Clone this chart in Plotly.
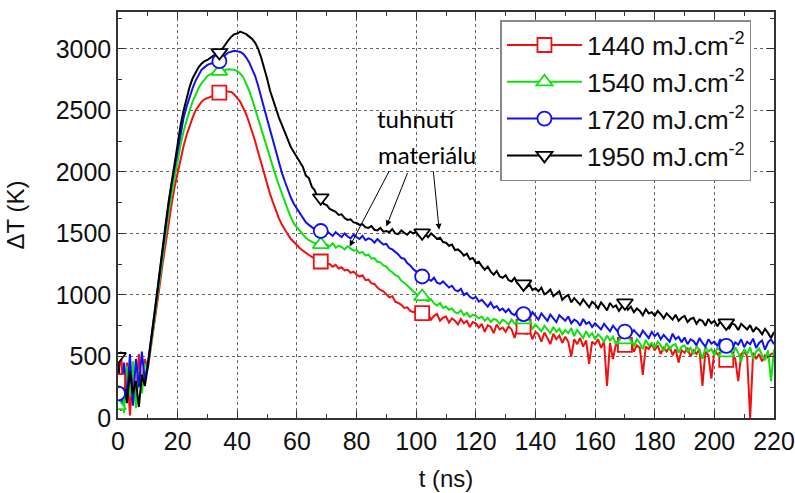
import plotly.graph_objects as go

# time axis (ns), 1 ns sampling
t_ns = list(range(0, 221))

dT_1950 = [
    500, 180, 320, 120, 380, 200, 300, 90, 350, 260,
    420, 620, 800, 1000, 1200, 1400, 1580, 1760, 1920, 2060,
    2220, 2380, 2500, 2600, 2690, 2760, 2810, 2850, 2880, 2900,
    2910, 2930, 2945, 2955, 2970, 3000, 3040, 3070, 3100, 3120,
    3125, 3140, 3130, 3120, 3100, 3080, 3050, 3000, 2930, 2850,
    2760, 2660, 2580, 2500, 2440, 2380, 2320, 2260, 2200, 2160,
    2120, 2070, 2040, 1970, 1950, 1880, 1850, 1790, 1790, 1740,
    1730, 1700, 1690, 1675, 1650, 1655, 1625, 1610, 1615, 1590,
    1585, 1570, 1575, 1550, 1545, 1560, 1530, 1525, 1545, 1515,
    1520, 1510, 1535, 1500, 1495, 1525, 1505, 1490, 1515, 1500,
    1510, 1480, 1505, 1495, 1470, 1500, 1480, 1455, 1465, 1430,
    1425, 1400, 1410, 1365, 1370, 1350, 1320, 1335, 1290, 1300,
    1260, 1270, 1235, 1205, 1230, 1190, 1165, 1195, 1150, 1140,
    1160, 1120, 1110, 1140, 1095, 1110, 1090, 1060, 1085, 1040,
    1055, 1030, 1060, 1005, 1020, 1045, 990, 1010, 1030, 960,
    985, 1000, 940, 975, 950, 920, 965, 930, 900, 945,
    925, 890, 940, 910, 875, 935, 900, 915, 870, 905,
    936, 880, 905, 860, 890, 870, 835, 885, 850, 860,
    830, 870, 845, 810, 850, 825, 800, 840, 790, 815,
    830, 780, 805, 815, 765, 800, 790, 750, 805, 770,
    790, 745, 785, 760, 773, 730, 770, 755, 715, 765,
    740, 720, 755, 700, 735, 715, 680, 725, 690, 650,
    700,
]

dT_1720 = [
    200, 60, 450, 150, 520, 100, 480, 250, 540, 300,
    450, 620, 790, 980, 1180, 1380, 1560, 1740, 1900, 2040,
    2180, 2320, 2440, 2530, 2610, 2680, 2740, 2790, 2830, 2850,
    2870, 2880, 2885, 2890, 2900, 2920, 2950, 2970, 2980, 2985,
    2980, 2975, 2960, 2930, 2890, 2840, 2780, 2700, 2620, 2520,
    2430, 2340, 2250, 2160, 2070, 1990, 1920, 1850, 1790, 1740,
    1700, 1660, 1620, 1590, 1570, 1550, 1530, 1515, 1520, 1505,
    1520, 1500, 1480, 1510, 1490, 1470, 1500, 1475, 1460, 1490,
    1470, 1455, 1480, 1445, 1460, 1450, 1425, 1455, 1430, 1410,
    1415, 1380, 1370, 1350, 1330, 1300, 1295, 1260, 1240, 1210,
    1190, 1165, 1150, 1160, 1130, 1115, 1140, 1100, 1090, 1110,
    1085, 1060, 1075, 1040, 1030, 1050, 1000, 1015, 985, 970,
    985, 945, 960, 930, 905, 940, 895, 910, 875, 890,
    860, 885, 850, 835, 870, 825, 845, 850, 810, 860,
    825, 800, 850, 815, 790, 840, 805, 780, 835, 810,
    790, 825, 770, 800, 785, 750, 805, 765, 780, 740,
    770, 745, 720, 765, 730, 705, 750, 715, 690, 740,
    702, 725, 680, 715, 690, 660, 710, 675, 650, 700,
    665, 690, 640, 675, 650, 620, 685, 640, 660, 615,
    655, 600, 640, 625, 590, 650, 610, 580, 640, 605,
    620, 585, 640, 600, 586, 625, 560, 615, 595, 640,
    575, 620, 600, 645, 570, 610, 630, 555, 615, 640,
    600,
]

dT_1540 = [
    100, 350, 40, 420, 180, 460, 80, 380, 200, 440,
    420, 580, 760, 950, 1140, 1330, 1500, 1670, 1820, 1960,
    2090, 2220, 2330, 2420, 2500, 2570, 2630, 2680, 2720, 2750,
    2780, 2795, 2805, 2810, 2817, 2825, 2830, 2835, 2832, 2830,
    2820, 2800, 2770, 2720, 2660, 2590, 2510, 2420, 2340, 2260,
    2180, 2100, 2030, 1960, 1890, 1820, 1750, 1690, 1630, 1580,
    1550, 1520, 1490, 1465, 1445, 1430, 1420, 1425, 1410, 1415,
    1410, 1395, 1420, 1385, 1400, 1390, 1370, 1395, 1375, 1360,
    1365, 1340, 1350, 1320, 1330, 1295, 1300, 1270, 1265, 1240,
    1230, 1200, 1185, 1160, 1150, 1115, 1100, 1075, 1050, 1030,
    1010, 985, 987, 960, 950, 965, 930, 915, 935, 895,
    906, 880, 890, 860, 850, 875, 835, 855, 820, 840,
    830, 810, 824, 790, 815, 780, 805, 795, 765, 800,
    785, 760, 800, 770, 750, 790, 797, 740, 775, 725,
    760, 735, 705, 750, 715, 690, 740, 700, 725, 680,
    715, 690, 730, 665, 716, 680, 650, 705, 660, 690,
    640, 680, 655, 620, 670, 630, 660, 600, 650, 625,
    635, 600, 655, 580, 640, 610, 560, 635, 590, 610,
    570, 620, 590, 545, 610, 560, 590, 600, 530, 580,
    590, 540, 570, 520, 580, 555, 480, 575, 540, 560,
    510, 570, 545, 490, 529, 560, 500, 575, 530, 460,
    560, 520, 575, 480, 540, 565, 510, 470, 550, 300,
    556,
]

dT_1440 = [
    300, 540, 120, 450, 20, 380, 150, 520, 250, 480,
    400, 560, 720, 900, 1080, 1260, 1430, 1590, 1740, 1880,
    2000, 2110, 2210, 2300, 2380, 2440, 2500, 2540, 2570, 2590,
    2600, 2615, 2625, 2635, 2645, 2650, 2655, 2655, 2650, 2630,
    2600, 2570, 2520, 2470, 2400, 2330, 2250, 2160, 2070, 1980,
    1900, 1820, 1750, 1680, 1620, 1570, 1525, 1490, 1455, 1430,
    1400, 1380, 1360, 1340, 1325, 1310, 1295, 1285, 1272, 1265,
    1260, 1250, 1230, 1245, 1215, 1225, 1200, 1204, 1180, 1190,
    1165, 1150, 1160, 1120, 1125, 1095, 1090, 1060, 1041, 1030,
    1005, 980, 990, 945, 935, 920, 895, 900, 870, 860,
    870, 835, 852, 820, 845, 800, 830, 845, 790, 815,
    824, 775, 810, 790, 760, 805, 770, 790, 740, 780,
    770, 735, 765, 700, 755, 740, 690, 760, 720, 735,
    700, 745, 720, 650, 730, 705, 743, 680, 710, 640,
    700, 680, 620, 695, 650, 600, 685, 640, 670, 610,
    660, 620, 500, 640, 600, 650, 580, 630, 440, 620,
    600, 640, 570, 620, 260, 610, 480, 600, 580, 620,
    594, 560, 610, 540, 590, 570, 350, 580, 560, 600,
    550, 590, 520, 570, 540, 580, 510, 560, 450, 550,
    530, 570, 500, 550, 520, 560, 260, 540, 510, 320,
    550, 520, 490, 540, 472, 510, 530, 480, 300, 520,
    540, 500, 0, 530, 480, 520, 460, 510, 490, 520,
    529,
]

series_names = ["1440 mJ.cm<sup>-2</sup>", "1540 mJ.cm<sup>-2</sup>",
                "1720 mJ.cm<sup>-2</sup>", "1950 mJ.cm<sup>-2</sup>"]
series_values = [dT_1440, dT_1540, dT_1720, dT_1950]
series_colors = ["#f01010", "#10e010", "#1010f0", "#000000"]
series_symbols = ["square", "triangle-up", "circle", "triangle-down"]
marker_times = [0, 34, 68, 102, 136, 170, 204]

annotation_lines = ["tuhnutí", "materiálu"]
annotation_pos = [(99.9, 2433), (103.7, 2140)]
# arrows: (tail t, tail dT, head t, head dT)
arrows = [(91.2, 2018, 77.7, 1394), (97.3, 2004, 90.0, 1557), (105.7, 2018, 107.7, 1530)]

FONT = "Liberation Sans, Arial, sans-serif"

fig = go.Figure()
for vals, col in zip(series_values, series_colors):
    fig.add_trace(go.Scatter(x=t_ns, y=vals, mode="lines",
                             line=dict(color=col, width=2),
                             showlegend=False, hoverinfo="skip"))
for vals, col, sym in zip(series_values, series_colors, series_symbols):
    idx = [t_ns.index(m) for m in marker_times]
    fig.add_trace(go.Scatter(x=[t_ns[i] for i in idx], y=[vals[i] for i in idx],
                             mode="markers",
                             marker=dict(symbol=sym, size=14, color="white",
                                         line=dict(color=col, width=1.8)),
                             showlegend=False, hoverinfo="skip"))
for k, (name, col, sym) in enumerate(zip(series_names, series_colors, series_symbols)):
    fig.add_trace(go.Scatter(x=[None], y=[None], mode="lines+markers", name=name,
                             legendgroup=f"g{k}",
                             line=dict(color=col, width=2),
                             marker=dict(symbol=sym, size=14, color="white",
                                         line=dict(color=col, width=1.8))))

for txt, (ax_, ay_) in zip(annotation_lines, annotation_pos):
    fig.add_annotation(x=ax_, y=ay_, xref="x", yref="y", text=txt, showarrow=False,
                       font=dict(family="Lato, sans-serif", size=24, color="black"))
for tx, ty, hx, hy in arrows:
    fig.add_annotation(x=hx, y=hy, ax=tx, ay=ty, xref="x", yref="y", axref="x", ayref="y",
                       text="", showarrow=True, arrowhead=2, arrowsize=1.2,
                       arrowwidth=1, arrowcolor="black")

axis_common = dict(showline=True, linecolor="#333", linewidth=1.5, mirror="allticks",
                   ticks="inside", ticklen=7, tickcolor="#333", tickwidth=1.2,
                   showgrid=True, gridcolor="#666", griddash="dot", gridwidth=1,
                   zeroline=False, automargin=False,
                   tickfont=dict(family=FONT, size=25, color="#111"))

fig.update_xaxes(range=[0, 220], dtick=20, tick0=0,
                 minor=dict(dtick=10, ticks="inside", ticklen=4, tickcolor="#333", showgrid=False),
                 title=dict(text="t (ns)", font=dict(family=FONT, size=24, color="#111"), standoff=16),
                 **axis_common)
fig.update_yaxes(range=[0, 3300], dtick=500, tick0=0,
                 minor=dict(dtick=250, ticks="inside", ticklen=4, tickcolor="#333", showgrid=False),
                 title=dict(text="ΔT (K)", font=dict(family=FONT, size=24, color="#111"), standoff=24),
                 **axis_common)

fig.update_layout(
    width=795, height=493,
    margin=dict(l=118, r=21, t=12, b=75),
    plot_bgcolor="white", paper_bgcolor="white",
    font=dict(family=FONT, size=25, color="#111"),
    legend=dict(x=0.583, y=0.98, xanchor="left", yanchor="top",
                bgcolor="white", bordercolor="#888", borderwidth=1.5,
                font=dict(family=FONT, size=26, color="#111"),
                itemwidth=75, tracegroupgap=0),
)

fig.write_html("out.html")
